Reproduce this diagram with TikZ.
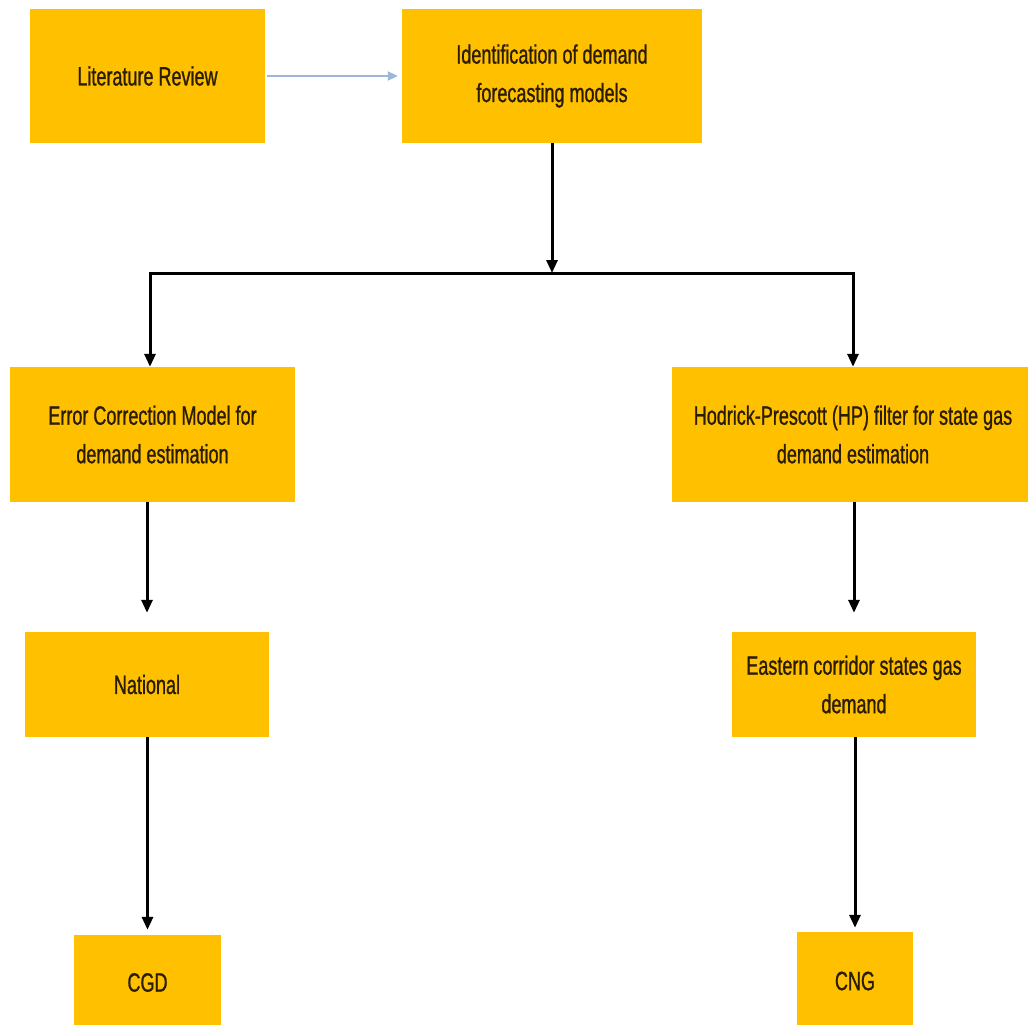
\documentclass[tikz,border=0pt]{standalone}
\usepackage{fontspec}
\setmainfont{Liberation Sans}[FakeStretch=0.68, FakeBold=0.9]
\usetikzlibrary{arrows.meta}

\definecolor{boxfill}{HTML}{FFC000}
\definecolor{boxtext}{HTML}{2A1C00}
\definecolor{linkblue}{HTML}{9DB8D6}

\begin{document}
\begin{tikzpicture}[x=1pt,y=-1pt,
  box/.style={fill=boxfill, draw=none, text=boxtext, align=center,
    font=\fontsize{26.5}{38.5}\selectfont, inner sep=0pt},
  flow/.style={draw=black, line width=3pt,
    -{Triangle[length=13pt,width=11pt]}},
  bus/.style={draw=black, line width=3pt, line cap=rect},
  link/.style={draw=linkblue, line width=2pt,
    -{Triangle[length=10pt,width=9pt]}, shorten >=4pt, shorten <=2pt}]

\useasboundingbox (0,0) rectangle (1028,1025);
\clip (0,0) rectangle (1028,1025);
\fill[white] (0,0) rectangle (1028,1025);

% boxes
\node[box, minimum width=235pt, minimum height=134pt] (lit) at (147.5,76) {Literature Review};
\node[box, minimum width=300pt, minimum height=134pt] (ident) at (552,76)
  {Identification of demand\\forecasting models};
\node[box, minimum width=285pt, minimum height=135pt] (ecm) at (152.5,434.5)
  {Error Correction Model for\\demand estimation};
\node[box, minimum width=362pt, minimum height=135pt] (hp) at (853,434.5)
  {Hodrick-Prescott (HP) filter for state gas\\demand estimation};
\node[box, minimum width=244pt, minimum height=105pt] (nat) at (147,684.5) {National};
\node[box, minimum width=244pt, minimum height=105pt] (east) at (854,684.5)
  {Eastern corridor states gas\\demand};
\node[box, minimum width=147pt, minimum height=95pt] (cgd) at (147.5,982.5) {CGD};
\node[box, minimum width=116pt, minimum height=98pt] (cng) at (855,981) {CNG};

% branch bus
\coordinate (jn) at (552,273);
\coordinate (jl) at (150,273);
\coordinate (jr) at (853,273);

% connectors
\draw[link] (lit) -- (ident);
\draw[flow] (ident.south) -- (jn);
\draw[bus] (jl) -- (jr);
\draw[flow] (jl) -- (jl |- ecm.north);
\draw[flow] (jr) -- (jr |- hp.north);
\draw[flow, shorten >=19pt] (nat.north |- ecm.south) -- (nat.north);
\draw[flow, shorten >=19pt] (east.north |- hp.south) -- (east.north);
\draw[flow, shorten >=5pt] (cgd.north |- nat.south) -- (cgd.north);
\draw[flow, shorten >=4pt] (cng.north |- east.south) -- (cng.north);
\end{tikzpicture}
\end{document}
